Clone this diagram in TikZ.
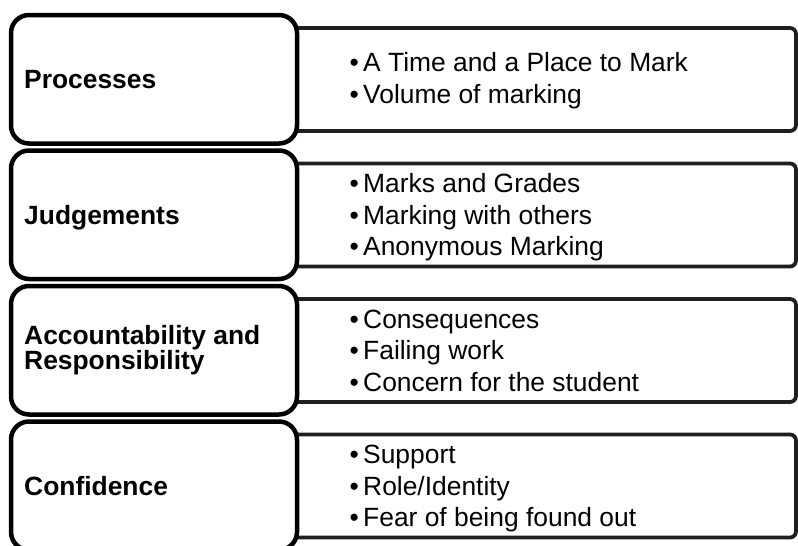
\documentclass[tikz,border=0pt]{standalone}
\usepackage{fontspec}
\setmainfont{Liberation Sans}
\newcommand\bulitem{\makebox[13.5pt][l]{•}}
\tikzset{
  leftbox/.style={draw=black, line width=4.5pt, rounded corners=18pt, fill=white,
    minimum width=286pt, minimum height=128.5pt, inner sep=0pt},
  rightbox/.style={draw=black!88, line width=3.8pt, rounded corners=6pt, fill=white,
    minimum width=596pt, minimum height=103pt, inner sep=0pt},
  lbl/.style={font=\fontsize{26.4}{24.5}\selectfont\bfseries, anchor=base west, inner sep=0pt},
  itm/.style={font=\fontsize{26.4}{31.6}\selectfont, anchor=base west, inner sep=0pt},
}
\begin{document}
\begin{tikzpicture}[x=1pt,y=-1pt]
\useasboundingbox (0,0) rectangle (798,546);
\clip (0,0) rectangle (798,546);
% right boxes (behind)
\node[rightbox] (R1) at (498,79.5) {};
\node[rightbox] (R2) at (498,215) {};
\node[rightbox] (R3) at (498,350.5) {};
\node[rightbox] (R4) at (498,486) {};
% left boxes
\node[leftbox] (L1) at (154,79.25) {};
\node[leftbox] (L2) at (154,214.75) {};
\node[leftbox] (L3) at (154,350.25) {};
\node[leftbox] (L4) at (154,485.75) {};
% left labels
\node[lbl] (t1) at (24,88.75) {Processes};
\node[lbl] (t2) at (24,224.25) {Judgements};
\node[lbl] (t3a) at (24,344.75) {Accountability and};
\node[lbl] (t3b) at (24,369.25) {Responsibility};
\node[lbl] (t4) at (24,495.25) {Confidence};
% right items
\node[itm] (a1) at (349.5,71.5) {\bulitem A Time and a Place to Mark};
\node[itm] (a2) at (349.5,103.5) {\bulitem Volume of marking};
\node[itm] (b1) at (349.5,192.5) {\bulitem Marks and Grades};
\node[itm] (b2) at (349.5,224) {\bulitem Marking with others};
\node[itm] (b3) at (349.5,255.5) {\bulitem Anonymous Marking};
\node[itm] (c1) at (349.5,328) {\bulitem Consequences};
\node[itm] (c2) at (349.5,359.5) {\bulitem Failing work};
\node[itm] (c3) at (349.5,391) {\bulitem Concern for the student};
\node[itm] (d1) at (349.5,463.5) {\bulitem Support};
\node[itm] (d2) at (349.5,495) {\bulitem Role/Identity};
\node[itm] (d3) at (349.5,526.5) {\bulitem Fear of being found out};
\end{tikzpicture}
\end{document}
